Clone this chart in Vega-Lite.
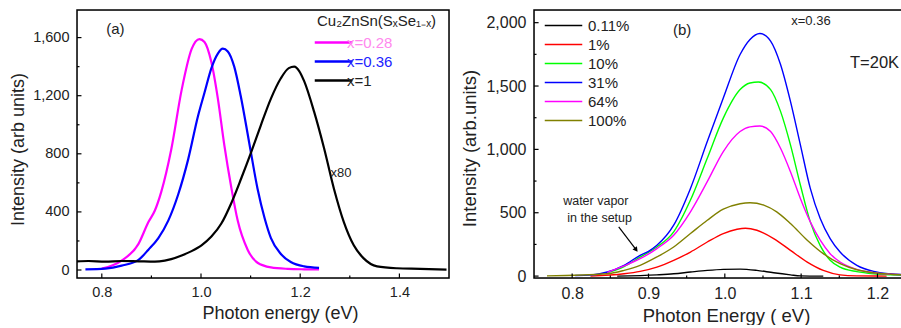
{
  "$schema": "https://vega.github.io/schema/vega-lite/v6.json",
  "padding": {"left": 9, "top": 8, "right": 0, "bottom": 0},
  "spacing": 8,
  "config": {
    "font": "Liberation Sans"
  },
  "resolve": {"scale": {"color": "independent"}},
  "datasets": {
    "a": [
      {"e": 0.800, "i": 10, "s": "x=0.28"}, {"e": 0.840, "i": 65, "s": "x=0.28"}, {"e": 0.874, "i": 180, "s": "x=0.28"}, {"e": 0.894, "i": 330, "s": "x=0.28"}, {"e": 0.907, "i": 410, "s": "x=0.28"}, {"e": 0.920, "i": 540, "s": "x=0.28"}, {"e": 0.940, "i": 830, "s": "x=0.28"}, {"e": 0.961, "i": 1240, "s": "x=0.28"}, {"e": 0.981, "i": 1520, "s": "x=0.28"}, {"e": 0.997, "i": 1590, "s": "x=0.28"}, {"e": 1.007, "i": 1570, "s": "x=0.28"}, {"e": 1.021, "i": 1430, "s": "x=0.28"}, {"e": 1.034, "i": 1180, "s": "x=0.28"}, {"e": 1.047, "i": 860, "s": "x=0.28"}, {"e": 1.061, "i": 570, "s": "x=0.28"}, {"e": 1.074, "i": 340, "s": "x=0.28"}, {"e": 1.094, "i": 140, "s": "x=0.28"}, {"e": 1.114, "i": 50, "s": "x=0.28"}, {"e": 1.141, "i": 18, "s": "x=0.28"}, {"e": 1.175, "i": 8, "s": "x=0.28"}, {"e": 1.208, "i": 5, "s": "x=0.28"}, {"e": 1.238, "i": 4, "s": "x=0.28"},
      {"e": 0.767, "i": 5, "s": "x=0.36"}, {"e": 0.807, "i": 10, "s": "x=0.36"}, {"e": 0.840, "i": 30, "s": "x=0.36"}, {"e": 0.874, "i": 70, "s": "x=0.36"}, {"e": 0.894, "i": 140, "s": "x=0.36"}, {"e": 0.914, "i": 220, "s": "x=0.36"}, {"e": 0.934, "i": 340, "s": "x=0.36"}, {"e": 0.954, "i": 520, "s": "x=0.36"}, {"e": 0.974, "i": 760, "s": "x=0.36"}, {"e": 0.994, "i": 1060, "s": "x=0.36"}, {"e": 1.007, "i": 1220, "s": "x=0.36"}, {"e": 1.021, "i": 1390, "s": "x=0.36"}, {"e": 1.034, "i": 1490, "s": "x=0.36"}, {"e": 1.044, "i": 1524, "s": "x=0.36"}, {"e": 1.054, "i": 1505, "s": "x=0.36"}, {"e": 1.067, "i": 1400, "s": "x=0.36"}, {"e": 1.080, "i": 1200, "s": "x=0.36"}, {"e": 1.097, "i": 880, "s": "x=0.36"}, {"e": 1.114, "i": 560, "s": "x=0.36"}, {"e": 1.128, "i": 360, "s": "x=0.36"}, {"e": 1.141, "i": 220, "s": "x=0.36"}, {"e": 1.161, "i": 110, "s": "x=0.36"}, {"e": 1.181, "i": 55, "s": "x=0.36"}, {"e": 1.208, "i": 25, "s": "x=0.36"}, {"e": 1.238, "i": 15, "s": "x=0.36"},
      {"e": 0.750, "i": 60, "s": "x=1"}, {"e": 0.773, "i": 62, "s": "x=1"}, {"e": 0.807, "i": 58, "s": "x=1"}, {"e": 0.840, "i": 62, "s": "x=1"}, {"e": 0.874, "i": 60, "s": "x=1"}, {"e": 0.907, "i": 58, "s": "x=1"}, {"e": 0.927, "i": 65, "s": "x=1"}, {"e": 0.940, "i": 75, "s": "x=1"}, {"e": 0.961, "i": 100, "s": "x=1"}, {"e": 0.981, "i": 130, "s": "x=1"}, {"e": 1.001, "i": 170, "s": "x=1"}, {"e": 1.021, "i": 230, "s": "x=1"}, {"e": 1.041, "i": 320, "s": "x=1"}, {"e": 1.061, "i": 460, "s": "x=1"}, {"e": 1.081, "i": 630, "s": "x=1"}, {"e": 1.101, "i": 810, "s": "x=1"}, {"e": 1.121, "i": 1000, "s": "x=1"}, {"e": 1.141, "i": 1180, "s": "x=1"}, {"e": 1.161, "i": 1320, "s": "x=1"}, {"e": 1.177, "i": 1390, "s": "x=1"}, {"e": 1.188, "i": 1400, "s": "x=1"}, {"e": 1.198, "i": 1370, "s": "x=1"}, {"e": 1.208, "i": 1300, "s": "x=1"}, {"e": 1.228, "i": 1090, "s": "x=1"}, {"e": 1.248, "i": 840, "s": "x=1"}, {"e": 1.268, "i": 560, "s": "x=1"}, {"e": 1.288, "i": 330, "s": "x=1"}, {"e": 1.308, "i": 170, "s": "x=1"}, {"e": 1.328, "i": 80, "s": "x=1"}, {"e": 1.355, "i": 25, "s": "x=1"}, {"e": 1.395, "i": 12, "s": "x=1"}, {"e": 1.442, "i": 8, "s": "x=1"}, {"e": 1.495, "i": 2, "s": "x=1"}
    ],
    "b": [
      {"e": 0.859, "i": 0, "s": "0.11%"}, {"e": 0.911, "i": 10, "s": "0.11%"}, {"e": 0.933, "i": 18, "s": "0.11%"}, {"e": 0.955, "i": 32, "s": "0.11%"}, {"e": 0.977, "i": 45, "s": "0.11%"}, {"e": 0.998, "i": 53, "s": "0.11%"}, {"e": 1.020, "i": 55, "s": "0.11%"}, {"e": 1.042, "i": 45, "s": "0.11%"}, {"e": 1.064, "i": 26, "s": "0.11%"}, {"e": 1.086, "i": 10, "s": "0.11%"}, {"e": 1.099, "i": 2, "s": "0.11%"}, {"e": 1.129, "i": 0, "s": "0.11%"},
      {"e": 0.824, "i": 0, "s": "1%"}, {"e": 0.868, "i": 18, "s": "1%"}, {"e": 0.889, "i": 37, "s": "1%"}, {"e": 0.911, "i": 71, "s": "1%"}, {"e": 0.933, "i": 124, "s": "1%"}, {"e": 0.955, "i": 190, "s": "1%"}, {"e": 0.977, "i": 269, "s": "1%"}, {"e": 0.998, "i": 336, "s": "1%"}, {"e": 1.016, "i": 370, "s": "1%"}, {"e": 1.027, "i": 378, "s": "1%"}, {"e": 1.042, "i": 362, "s": "1%"}, {"e": 1.064, "i": 296, "s": "1%"}, {"e": 1.086, "i": 203, "s": "1%"}, {"e": 1.108, "i": 111, "s": "1%"}, {"e": 1.129, "i": 45, "s": "1%"}, {"e": 1.151, "i": 10, "s": "1%"}, {"e": 1.173, "i": 2, "s": "1%"}, {"e": 1.212, "i": 0, "s": "1%"},
      {"e": 0.846, "i": 25, "s": "10%"}, {"e": 0.868, "i": 75, "s": "10%"}, {"e": 0.889, "i": 150, "s": "10%"}, {"e": 0.911, "i": 230, "s": "10%"}, {"e": 0.933, "i": 349, "s": "10%"}, {"e": 0.955, "i": 600, "s": "10%"}, {"e": 0.977, "i": 930, "s": "10%"}, {"e": 0.998, "i": 1247, "s": "10%"}, {"e": 1.020, "i": 1472, "s": "10%"}, {"e": 1.033, "i": 1524, "s": "10%"}, {"e": 1.044, "i": 1532, "s": "10%"}, {"e": 1.060, "i": 1472, "s": "10%"}, {"e": 1.073, "i": 1300, "s": "10%"}, {"e": 1.086, "i": 1036, "s": "10%"}, {"e": 1.099, "i": 719, "s": "10%"}, {"e": 1.112, "i": 428, "s": "10%"}, {"e": 1.125, "i": 240, "s": "10%"}, {"e": 1.138, "i": 125, "s": "10%"}, {"e": 1.151, "i": 70, "s": "10%"}, {"e": 1.173, "i": 35, "s": "10%"}, {"e": 1.195, "i": 18, "s": "10%"}, {"e": 1.217, "i": 10, "s": "10%"}, {"e": 1.238, "i": 6, "s": "10%"},
      {"e": 0.804, "i": 5, "s": "31%"}, {"e": 0.824, "i": 8, "s": "31%"}, {"e": 0.846, "i": 32, "s": "31%"}, {"e": 0.868, "i": 85, "s": "31%"}, {"e": 0.889, "i": 164, "s": "31%"}, {"e": 0.900, "i": 195, "s": "31%"}, {"e": 0.911, "i": 243, "s": "31%"}, {"e": 0.933, "i": 402, "s": "31%"}, {"e": 0.955, "i": 692, "s": "31%"}, {"e": 0.977, "i": 1062, "s": "31%"}, {"e": 0.998, "i": 1405, "s": "31%"}, {"e": 1.020, "i": 1749, "s": "31%"}, {"e": 1.033, "i": 1868, "s": "31%"}, {"e": 1.046, "i": 1915, "s": "31%"}, {"e": 1.060, "i": 1855, "s": "31%"}, {"e": 1.073, "i": 1670, "s": "31%"}, {"e": 1.086, "i": 1379, "s": "31%"}, {"e": 1.099, "i": 1036, "s": "31%"}, {"e": 1.112, "i": 692, "s": "31%"}, {"e": 1.125, "i": 454, "s": "31%"}, {"e": 1.138, "i": 296, "s": "31%"}, {"e": 1.151, "i": 190, "s": "31%"}, {"e": 1.173, "i": 85, "s": "31%"}, {"e": 1.195, "i": 37, "s": "31%"}, {"e": 1.217, "i": 18, "s": "31%"}, {"e": 1.238, "i": 10, "s": "31%"},
      {"e": 0.846, "i": 30, "s": "64%"}, {"e": 0.868, "i": 80, "s": "64%"}, {"e": 0.889, "i": 137, "s": "64%"}, {"e": 0.911, "i": 217, "s": "64%"}, {"e": 0.933, "i": 322, "s": "64%"}, {"e": 0.955, "i": 507, "s": "64%"}, {"e": 0.977, "i": 745, "s": "64%"}, {"e": 0.998, "i": 983, "s": "64%"}, {"e": 1.020, "i": 1141, "s": "64%"}, {"e": 1.033, "i": 1178, "s": "64%"}, {"e": 1.046, "i": 1184, "s": "64%"}, {"e": 1.060, "i": 1141, "s": "64%"}, {"e": 1.073, "i": 1009, "s": "64%"}, {"e": 1.086, "i": 824, "s": "64%"}, {"e": 1.099, "i": 613, "s": "64%"}, {"e": 1.112, "i": 428, "s": "64%"}, {"e": 1.125, "i": 283, "s": "64%"}, {"e": 1.138, "i": 177, "s": "64%"}, {"e": 1.151, "i": 111, "s": "64%"}, {"e": 1.173, "i": 53, "s": "64%"}, {"e": 1.195, "i": 26, "s": "64%"}, {"e": 1.217, "i": 15, "s": "64%"}, {"e": 1.238, "i": 10, "s": "64%"},
      {"e": 0.767, "i": 2, "s": "100%"}, {"e": 0.846, "i": 18, "s": "100%"}, {"e": 0.868, "i": 45, "s": "100%"}, {"e": 0.889, "i": 85, "s": "100%"}, {"e": 0.911, "i": 151, "s": "100%"}, {"e": 0.933, "i": 230, "s": "100%"}, {"e": 0.955, "i": 336, "s": "100%"}, {"e": 0.977, "i": 441, "s": "100%"}, {"e": 0.998, "i": 528, "s": "100%"}, {"e": 1.020, "i": 571, "s": "100%"}, {"e": 1.033, "i": 579, "s": "100%"}, {"e": 1.051, "i": 560, "s": "100%"}, {"e": 1.068, "i": 507, "s": "100%"}, {"e": 1.086, "i": 415, "s": "100%"}, {"e": 1.108, "i": 283, "s": "100%"}, {"e": 1.129, "i": 177, "s": "100%"}, {"e": 1.151, "i": 98, "s": "100%"}, {"e": 1.173, "i": 50, "s": "100%"}, {"e": 1.195, "i": 26, "s": "100%"}, {"e": 1.217, "i": 15, "s": "100%"}, {"e": 1.238, "i": 10, "s": "100%"}
    ],
    "one": [{"k": 1}],
    "lxM": [{"v": 0.8}, {"v": 1.0}, {"v": 1.2}, {"v": 1.4}],
    "lxm": [{"v": 0.9}, {"v": 1.1}, {"v": 1.3}],
    "lyM": [{"v": 0}, {"v": 400}, {"v": 800}, {"v": 1200}, {"v": 1600}],
    "lym": [{"v": 200}, {"v": 600}, {"v": 1000}, {"v": 1400}],
    "rxM": [{"v": 0.8}, {"v": 0.9}, {"v": 1.0}, {"v": 1.1}, {"v": 1.2}],
    "rxm": [{"v": 0.85}, {"v": 0.95}, {"v": 1.05}, {"v": 1.15}],
    "ryM": [{"v": 0}, {"v": 500}, {"v": 1000}, {"v": 1500}, {"v": 2000}],
    "rym": [{"v": 250}, {"v": 750}, {"v": 1250}, {"v": 1750}]
  },
  "hconcat": [
    {
      "width": 372,
      "height": 268,
      "layer": [
        {
          "data": {"name": "a"},
          "mark": {"type": "line", "interpolate": "monotone", "strokeWidth": 2.2},
          "encoding": {
            "x": {"field": "e", "type": "quantitative", "title": "Photon energy (eV)", "scale": {"domain": [0.75, 1.5], "nice": false, "zero": false},
              "axis": {"grid": false, "domain": false, "ticks": false, "tickSize": 0, "labelColor": "#222", "titleColor": "#222", "titleFontWeight": "normal",
                "titleFontSize": 18, "titlePadding": 6, "titleX": 203, "labelFontSize": 14.5, "values": [0.8, 1.0, 1.2, 1.4],
                "format": ".1f", "labelPadding": 7}},
            "y": {"field": "i", "type": "quantitative", "title": "Intensity (arb units)", "scale": {"domain": [-55, 1790], "nice": false, "zero": false},
              "axis": {"grid": false, "domain": false, "ticks": false, "tickSize": 0, "labelColor": "#222", "titleColor": "#222", "titleFontWeight": "normal",
                "titleFontSize": 18, "titlePadding": 5, "titleY": 139, "labelFontSize": 14.5, "values": [0, 400, 800, 1200, 1600],
                "labelPadding": 8}},
            "color": {"field": "s", "type": "nominal",
              "scale": {"domain": ["x=0.28", "x=0.36", "x=1"], "range": ["#ff00ff", "#0000ff", "#000000"]},
              "legend": {"orient": "none", "legendX": 240, "legendY": 4, "title": "Cu₂ZnSn(SₓSe₁₋ₓ)", "titleFontSize": 15, "titleFontWeight": "normal", "titleColor": "#222", "titlePadding": 6,
                "labelFontSize": 15, "labelColor": {"expr": "datum.value == 'x=0.28' ? '#ff88ee' : datum.value == 'x=0.36' ? '#2222ff' : '#222222'"},
                "symbolType": "M-3.75,0H3.75", "symbolSize": 100, "symbolStrokeWidth": 2.5, "symbolOffset": 9, "labelOffset": 6, "rowPadding": 3}}
          }
        },
        {
          "data": {"name": "one"},
          "mark": {"type": "rect", "filled": false, "color": "black", "strokeWidth": 1.5},
          "encoding": {"x": {"datum": 0.75, "type": "quantitative"}, "x2": {"datum": 1.5}, "y": {"datum": -55, "type": "quantitative"}, "y2": {"datum": 1790}}
        },
        {
          "data": {"name": "lxM"},
          "mark": {"type": "rule", "color": "black", "strokeWidth": 1.2},
          "encoding": {"x": {"field": "v", "type": "quantitative", "title": "Photon energy (eV)"}, "y": {"datum": -55, "type": "quantitative"}, "y2": {"datum": -24}}
        },
        {
          "data": {"name": "lxm"},
          "mark": {"type": "rule", "color": "black", "strokeWidth": 1.2},
          "encoding": {"x": {"field": "v", "type": "quantitative", "title": "Photon energy (eV)"}, "y": {"datum": -55, "type": "quantitative"}, "y2": {"datum": -38}}
        },
        {
          "data": {"name": "lyM"},
          "mark": {"type": "rule", "color": "black", "strokeWidth": 1.2},
          "encoding": {"y": {"field": "v", "type": "quantitative", "title": "Intensity (arb units)"}, "x": {"datum": 0.75, "type": "quantitative"}, "x2": {"datum": 0.759}}
        },
        {
          "data": {"name": "lym"},
          "mark": {"type": "rule", "color": "black", "strokeWidth": 1.2},
          "encoding": {"y": {"field": "v", "type": "quantitative", "title": "Intensity (arb units)"}, "x": {"datum": 0.75, "type": "quantitative"}, "x2": {"datum": 0.755}}
        },
        {
          "data": {"name": "one"},
          "mark": {"type": "text", "align": "left", "baseline": "middle", "fontSize": 15, "color": "#222"},
          "encoding": {"x": {"datum": 0.809, "type": "quantitative"}, "y": {"datum": 1662, "type": "quantitative"}, "text": {"value": "(a)"}}
        },
        {
          "data": {"name": "one"},
          "mark": {"type": "text", "align": "left", "baseline": "middle", "fontSize": 13, "color": "#222"},
          "encoding": {"x": {"datum": 1.261, "type": "quantitative"}, "y": {"datum": 669, "type": "quantitative"}, "text": {"value": "x80"}}
        }
      ]
    },
    {
      "width": 374,
      "height": 268,
      "layer": [
        {
          "data": {"name": "b"},
          "mark": {"type": "line", "interpolate": "monotone", "strokeWidth": 1.4},
          "encoding": {
            "x": {"field": "e", "type": "quantitative", "title": "Photon Energy ( eV)", "scale": {"domain": [0.75, 1.24], "nice": false, "zero": false},
              "axis": {"grid": false, "domain": false, "ticks": false, "tickSize": 0, "labelColor": "#222", "titleColor": "#222", "titleFontWeight": "normal",
                "titleFontSize": 18.5, "titlePadding": 5, "titleX": 192, "labelFontSize": 16, "values": [0.8, 0.9, 1.0, 1.1, 1.2],
                "format": ".1f", "labelPadding": 7}},
            "y": {"field": "i", "type": "quantitative", "title": "Intensity (arb.units)", "scale": {"domain": [-15, 2100], "nice": false, "zero": false},
              "axis": {"grid": false, "domain": false, "ticks": false, "tickSize": 0, "labelColor": "#222", "titleColor": "#222", "titleFontWeight": "normal",
                "titleFontSize": 18.5, "titlePadding": 6, "titleY": 138, "labelFontSize": 16, "values": [0, 500, 1000, 1500, 2000],
                "labelPadding": 8}},
            "color": {"field": "s", "type": "nominal",
              "scale": {"domain": ["0.11%", "1%", "10%", "31%", "64%", "100%"], "range": ["#000000", "#ff0000", "#00ff00", "#0000ff", "#ff00ff", "#808000"]},
              "legend": {"orient": "none", "legendX": 13, "legendY": 8, "title": null,
                "labelFontSize": 15, "labelColor": "#222",
                "symbolType": "M-3.75,0H3.75", "symbolSize": 100, "symbolStrokeWidth": 1.5, "symbolOffset": 9, "labelOffset": 17, "rowPadding": 3}}
          }
        },
        {
          "data": {"name": "one"},
          "mark": {"type": "rect", "filled": false, "color": "black", "strokeWidth": 1.5},
          "encoding": {"x": {"datum": 0.75, "type": "quantitative"}, "x2": {"datum": 1.24}, "y": {"datum": -15, "type": "quantitative"}, "y2": {"datum": 2100}}
        },
        {
          "data": {"name": "rxM"},
          "mark": {"type": "rule", "color": "black", "strokeWidth": 1.2},
          "encoding": {"x": {"field": "v", "type": "quantitative", "title": "Photon Energy ( eV)"}, "y": {"datum": -15, "type": "quantitative"}, "y2": {"datum": 20}}
        },
        {
          "data": {"name": "rxm"},
          "mark": {"type": "rule", "color": "black", "strokeWidth": 1.2},
          "encoding": {"x": {"field": "v", "type": "quantitative", "title": "Photon Energy ( eV)"}, "y": {"datum": -15, "type": "quantitative"}, "y2": {"datum": 5}}
        },
        {
          "data": {"name": "ryM"},
          "mark": {"type": "rule", "color": "black", "strokeWidth": 1.2},
          "encoding": {"y": {"field": "v", "type": "quantitative", "title": "Intensity (arb.units)"}, "x": {"datum": 0.75, "type": "quantitative"}, "x2": {"datum": 0.756}}
        },
        {
          "data": {"name": "rym"},
          "mark": {"type": "rule", "color": "black", "strokeWidth": 1.2},
          "encoding": {"y": {"field": "v", "type": "quantitative", "title": "Intensity (arb.units)"}, "x": {"datum": 0.75, "type": "quantitative"}, "x2": {"datum": 0.7533}}
        },
        {
          "data": {"name": "one"},
          "mark": {"type": "text", "align": "left", "baseline": "middle", "fontSize": 15, "color": "#222"},
          "encoding": {"x": {"datum": 0.932, "type": "quantitative"}, "y": {"datum": 1944, "type": "quantitative"}, "text": {"value": "(b)"}}
        },
        {
          "data": {"name": "one"},
          "mark": {"type": "text", "align": "left", "baseline": "middle", "fontSize": 13, "color": "#222"},
          "encoding": {"x": {"datum": 1.087, "type": "quantitative"}, "y": {"datum": 2016, "type": "quantitative"}, "text": {"value": "x=0.36"}}
        },
        {
          "data": {"name": "one"},
          "mark": {"type": "text", "align": "left", "baseline": "middle", "fontSize": 16.5, "color": "#222"},
          "encoding": {"x": {"datum": 1.164, "type": "quantitative"}, "y": {"datum": 1683, "type": "quantitative"}, "text": {"value": "T=20K"}}
        },
        {
          "data": {"name": "one"},
          "mark": {"type": "text", "align": "center", "baseline": "middle", "fontSize": 12.5, "color": "#222"},
          "encoding": {"x": {"datum": 0.831, "type": "quantitative"}, "y": {"datum": 595, "type": "quantitative"}, "text": {"value": "water vapor"}}
        },
        {
          "data": {"name": "one"},
          "mark": {"type": "text", "align": "center", "baseline": "middle", "fontSize": 12.5, "color": "#222"},
          "encoding": {"x": {"datum": 0.836, "type": "quantitative"}, "y": {"datum": 460, "type": "quantitative"}, "text": {"value": "in the setup"}}
        },
        {
          "data": {"name": "one"},
          "mark": {"type": "rule", "color": "#000", "strokeWidth": 1.2},
          "encoding": {"x": {"datum": 0.861, "type": "quantitative"}, "y": {"datum": 389, "type": "quantitative"}, "x2": {"datum": 0.8832}, "y2": {"datum": 213}}
        },
        {
          "data": {"name": "one"},
          "mark": {"type": "point", "shape": "triangle", "filled": true, "color": "#000", "opacity": 1, "size": 30, "angle": 143},
          "encoding": {"x": {"datum": 0.8832, "type": "quantitative"}, "y": {"datum": 213, "type": "quantitative"}}
        }
      ]
    }
  ]
}
